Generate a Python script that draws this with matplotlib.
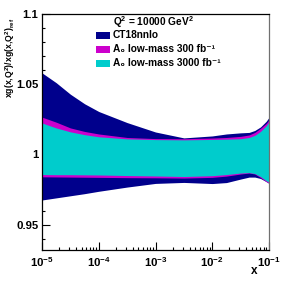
import matplotlib
matplotlib.use("Agg")
import matplotlib.pyplot as plt
from matplotlib.patches import Rectangle
from matplotlib.ticker import FuncFormatter, FixedLocator, LogLocator

plt.rcParams['font.family'] = ['Liberation Sans', 'DejaVu Sans']
plt.rcParams['font.weight'] = 'bold'
plt.rcParams['mathtext.fontset'] = 'custom'
plt.rcParams['mathtext.rm'] = 'Liberation Sans:bold'
plt.rcParams['mathtext.it'] = 'Liberation Sans:bold'
plt.rcParams['mathtext.bf'] = 'Liberation Sans:bold'

log_x = [-5.0, -4.75, -4.5, -4.25, -4.0, -3.5, -3.0, -2.5, -2.0, -1.75,
         -1.5, -1.35, -1.25, -1.15, -1.05, -1.0]
x_vals = [10 ** v for v in log_x]

ct18_hi = [1.0581, 1.0511, 1.0429, 1.0361, 1.0306, 1.0227, 1.0160, 1.0118, 1.0132, 1.0146,
           1.0154, 1.0157, 1.0171, 1.0196, 1.0236, 1.0264]
ct18_lo = [0.9676, 0.9691, 0.9706, 0.9721, 0.9738, 0.9768, 0.9794, 0.9801, 0.9793, 0.9800,
           0.9825, 0.9839, 0.9839, 0.9829, 0.9807, 0.9795]
a300_hi = [1.0266, 1.0230, 1.0189, 1.0164, 1.0146, 1.0121, 1.0113, 1.0112, 1.0117, 1.0121,
           1.0129, 1.0139, 1.0157, 1.0186, 1.0221, 1.0246]
a300_lo = [0.9841, 0.9840, 0.9839, 0.9838, 0.9837, 0.9835, 0.9834, 0.9832, 0.9837, 0.9846,
           0.9861, 0.9868, 0.9861, 0.9836, 0.9807, 0.9795]
a3000_hi = [1.0224, 1.0189, 1.0161, 1.0141, 1.0126, 1.0111, 1.0106, 1.0104, 1.0107, 1.0109,
            1.0112, 1.0121, 1.0136, 1.0164, 1.0204, 1.0232]
a3000_lo = [0.9857, 0.9856, 0.9856, 0.9855, 0.9854, 0.9850, 0.9847, 0.9843, 0.9849, 0.9857,
            0.9868, 0.9871, 0.9864, 0.9843, 0.9814, 0.9802]

labels = ['CT18nnlo', 'A\u2080 low-mass 300 fb\u207b\u00b9', 'A\u2080 low-mass 3000 fb\u207b\u00b9']
colors = ['#00008c', '#cc00cc', '#00cccc']
y_ticks = [0.95, 1.0, 1.05, 1.1]

W, H = 283, 281
fig = plt.figure(figsize=(W / 100, H / 100), dpi=100)
ax = fig.add_axes([42 / W, 1 - 250 / H, 227 / W, 236 / H])
ax.set_axisbelow(True)

bands = [(ct18_lo, ct18_hi), (a300_lo, a300_hi), (a3000_lo, a3000_hi)]
for (lo, hi), c in zip(bands, colors):
    ax.fill_between(x_vals, lo, hi, color=c, lw=0, zorder=1)

ax.set_xscale('log')
ax.set_xlim(1e-5, 1e-1)
ax.set_ylim(0.932, 1.1)
ax.yaxis.set_major_locator(FixedLocator(y_ticks))
ax.yaxis.set_minor_locator(FixedLocator([0.94, 0.96, 0.97, 0.98, 0.99, 1.01, 1.02,
                                         1.03, 1.04, 1.06, 1.07, 1.08, 1.09]))
ax.yaxis.set_major_formatter(FuncFormatter(lambda v, p: '{:g}'.format(v)))
ax.xaxis.set_major_locator(LogLocator(base=10, numticks=10))
ax.xaxis.set_minor_locator(LogLocator(base=10, subs=range(2, 10), numticks=20))

ax.tick_params(which='both', direction='in', top=False, right=False,
               labelsize=8.2, width=0.8)
ax.tick_params(which='major', length=5.5)
ax.tick_params(which='minor', length=2.5)
ax.tick_params(axis='y', pad=2.5)
ax.tick_params(axis='x', pad=4)
for s in ax.spines.values():
    s.set_linewidth(0.9)
ax.spines['right'].set_color('#707070')

fig.text(10 / W, 1 - 18 / H, r'xg(x,Q$^2$)/xg(x,Q$^2$)$_{\rm ref}$',
         rotation=90, ha='center', va='top', fontsize=6.3)
fig.text(257 / W, 1 - 271 / H, 'x', ha='right', va='center', fontsize=8.5)

# legend
fig.text(112.7 / W, 1 - 22.5 / H, r'Q$^2$ = 10000 GeV$^2$', ha='left', va='center',
         fontsize=7.3)
rows = [35.5, 49.5, 63.5]
for lab, c, yc in zip(labels, colors, rows):
    fig.patches.append(Rectangle((96 / W, 1 - (yc + 3.5) / H), 14 / W, 7 / H,
                                 transform=fig.transFigure, color=c, lw=0))
    fig.text(112.7 / W, 1 - yc / H, lab, ha='left', va='center', fontsize=7.3)

fig.savefig('out.png', dpi=100)
